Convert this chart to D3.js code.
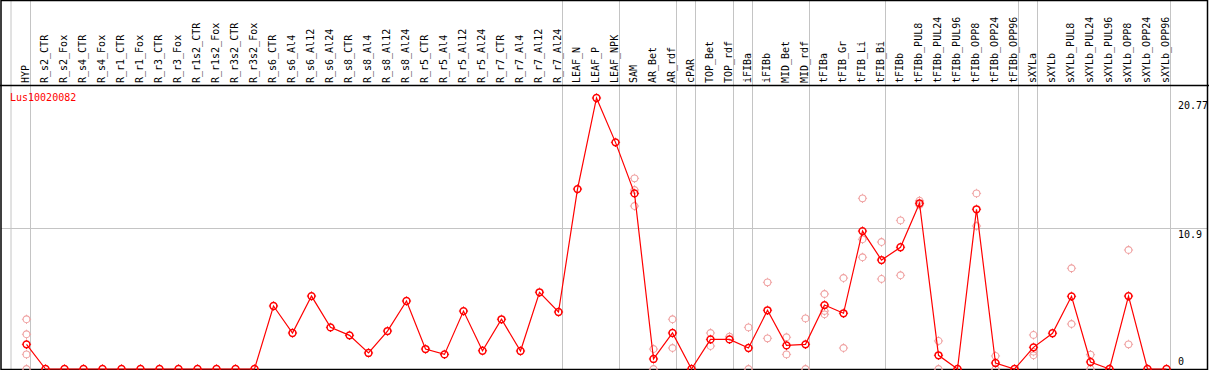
<!DOCTYPE html>
<html>
<head>
<meta charset="utf-8">
<script src="https://cdn.jsdelivr.net/npm/d3@7"></script>
<style>
  body { margin: 0; background: #fff; }
  svg { display: block; }
  text { font-family: "DejaVu Sans Mono", "Liberation Mono", monospace; font-size: 10px; }
</style>
</head>
<body>
<svg id="chart" width="1209" height="370"></svg>
<script>
'use strict'

var gene = "Lus10020082";

var categories = [
    "HYP", "R_s2_CTR", "R_s2_Fox", "R_s4_CTR", "R_s4_Fox", "R_r1_CTR", "R_r1_Fox",
    "R_r3_CTR", "R_r3_Fox", "R_r1s2_CTR", "R_r1s2_Fox", "R_r3s2_CTR", "R_r3s2_Fox",
    "R_s6_CTR", "R_s6_Al4", "R_s6_Al12", "R_s6_Al24", "R_s8_CTR", "R_s8_Al4",
    "R_s8_Al12", "R_s8_Al24", "R_r5_CTR", "R_r5_Al4", "R_r5_Al12", "R_r5_Al24",
    "R_r7_CTR", "R_r7_Al4", "R_r7_Al12", "R_r7_Al24", "LEAF_N", "LEAF_P", "LEAF_NPK",
    "SAM", "AR_Bet", "AR_rdf", "cPAR", "TOP_Bet", "TOP_rdf", "iFIBa", "iFIBb",
    "MID_Bet", "MID_rdf", "tFIBa", "tFIB_Gr", "tFIB_Li", "tFIB_Bi", "tFIBb",
    "tFIBb_PUL8", "tFIBb_PUL24", "tFIBb_PUL96", "tFIBb_OPP8", "tFIBb_OPP24", "tFIBb_OPP96",
    "sXYLa", "sXYLb", "sXYLb_PUL8", "sXYLb_PUL24", "sXYLb_PUL96", "sXYLb_OPP8",
    "sXYLb_OPP24", "sXYLb_OPP96"];

// how many columns sit between two grey separators
var groupSizes = [1, 28, 3, 3, 1, 2, 1, 3, 4, 7, 1, 7];

var means = [
    1.89, 0, 0, 0, 0, 0, 0, 0, 0, 0, 0, 0, 0,
    4.83, 2.76, 5.59, 3.19, 2.58, 1.23, 2.91, 5.21, 1.53, 1.12, 4.44, 1.40,
    3.81, 1.38, 5.88, 4.37, 13.79, 20.77, 17.37,
    13.46, 0.77, 2.76, 0, 2.27, 2.27, 1.61, 4.50, 1.81, 1.89,
    4.90, 4.27, 10.57, 8.35, 9.33, 12.70, 1.05, 0, 12.24, 0.46, 0,
    1.66, 2.74, 5.57, 0.54, 0, 5.59, 0, 0];

var replicates = {
    "HYP": [3.81, 2.66, 1.12, 0],
    "SAM": [14.61, 13.72, 12.49],
    "AR_Bet": [1.53, 0],
    "AR_rdf": [3.81, 1.61],
    "TOP_Bet": [2.76, 1.76],
    "TOP_rdf": [2.48],
    "iFIBa": [3.19, 0],
    "iFIBb": [6.64, 2.35],
    "MID_Bet": [2.43, 1.12],
    "MID_rdf": [3.88, 0],
    "tFIBa": [5.75, 4.45, 4.19],
    "tFIB_Gr": [6.97, 1.61],
    "tFIB_Li": [13.08, 9.94, 8.56],
    "tFIB_Bi": [9.73, 6.90],
    "tFIBb": [11.39, 7.18],
    "tFIBb_PUL8": [12.90, 12.57],
    "tFIBb_PUL24": [2.15, 0],
    "tFIBb_OPP8": [13.46, 10.96],
    "tFIBb_OPP24": [1.0, 0],
    "sXYLa": [2.61, 1.33, 1.05],
    "sXYLb_PUL8": [7.72, 3.45],
    "sXYLb_PUL24": [1.10, 0],
    "sXYLb_OPP8": [9.12, 1.89]
};

var yTicks = [0, 10.9, 20.77];


var W = 1209, H = 370;
var headerY = 85.5;
var svg = d3.select("#chart");

var x = d3.scaleBand()
    .domain(categories)
    .range([11.5, 11.5 + 19 * categories.length]);

var y = d3.scaleLinear()
    .domain([0, 20.77])
    .range([369, 98]);

function px(d){
    return x(d) + 15;
}

// grey separators (one before the first column, then after each group)
var bounds = [categories[0]];
var cum = 0;
groupSizes.forEach(function(s){
    cum += s;
    bounds.push(categories[cum - 1]);
});

svg.append("g")
    .selectAll("line")
    .data(bounds)
    .enter().append("line")
    .attr("x1", function(d, i){ return i == 0 ? x(d) - 0.5 : x(d) + 19; })
    .attr("x2", function(d, i){ return i == 0 ? x(d) - 0.5 : x(d) + 19; })
    .attr("y1", 0)
    .attr("y2", H)
    .attr("stroke", "#c4c4c4")
    .attr("stroke-width", 1);

// horizontal grid at the middle tick
svg.append("line")
    .attr("x1", 1).attr("x2", W - 1)
    .attr("y1", Math.round(y(yTicks[1])) + 1.5)
    .attr("y2", Math.round(y(yTicks[1])) + 1.5)
    .attr("stroke", "#c4c4c4");

// frame + header separator
svg.append("rect")
    .attr("x", 1).attr("y", 0.5)
    .attr("width", W - 2.5).attr("height", H - 1)
    .attr("fill", "none")
    .attr("stroke", "#000")
    .attr("stroke-width", 1.5);

svg.append("line")
    .attr("x1", 0).attr("x2", W)
    .attr("y1", headerY).attr("y2", headerY)
    .attr("stroke", "#000")
    .attr("stroke-width", 1.5);

// column labels
svg.append("g")
    .selectAll("text")
    .data(categories)
    .enter().append("text")
    .attr("transform", function(d){
        return "translate(" + (x(d) + 17.5) + "," + 83 + ") rotate(-90)";
    })
    .attr("fill", "#000")
    .text(function(d){ return d; });

// y tick labels
svg.append("g")
    .selectAll("text")
    .data(yTicks)
    .enter().append("text")
    .attr("x", 1178)
    .attr("y", function(d){ return d == 0 ? y(d) - 4 : y(d) + 11; })
    .attr("fill", "#000")
    .text(function(d){ return d; });

svg.append("text")
    .attr("x", 10)
    .attr("y", 101)
    .attr("fill", "#ff0000")
    .text(gene);


function marker(g, cx, cy, color, sw){
    var m = g.append("g").attr("transform", "translate(" + cx + "," + cy + ")");
    m.append("circle")
        .attr("r", 3.4)
        .attr("fill", "none")
        .attr("stroke", color)
        .attr("stroke-width", sw);
    [[0, -1], [0, 1], [-1, 0], [1, 0]].forEach(function(t){
        m.append("line")
            .attr("x1", t[0] * 3.6).attr("y1", t[1] * 3.6)
            .attr("x2", t[0] * 4.6).attr("y2", t[1] * 4.6)
            .attr("stroke", color)
            .attr("stroke-width", 1);
    });
}

var plot = svg.append("g");

// replicate points
var repG = plot.append("g");
categories.forEach(function(c){
    var reps = replicates[c] || [];
    reps.forEach(function(v){
        marker(repG, px(c), y(v), "#ef9f9f", 1.1);
    });
});

// mean line
var line = d3.line()
    .x(function(d, i){ return px(categories[i]); })
    .y(function(d){ return y(d); });

plot.append("path")
    .datum(means)
    .attr("d", line)
    .attr("fill", "none")
    .attr("stroke", "#ff0000")
    .attr("stroke-width", 1.2);

var meanG = plot.append("g");
means.forEach(function(v, i){
    marker(meanG, px(categories[i]), y(v), "#ff0000", 1.5);
});

</script>
</body>
</html>
